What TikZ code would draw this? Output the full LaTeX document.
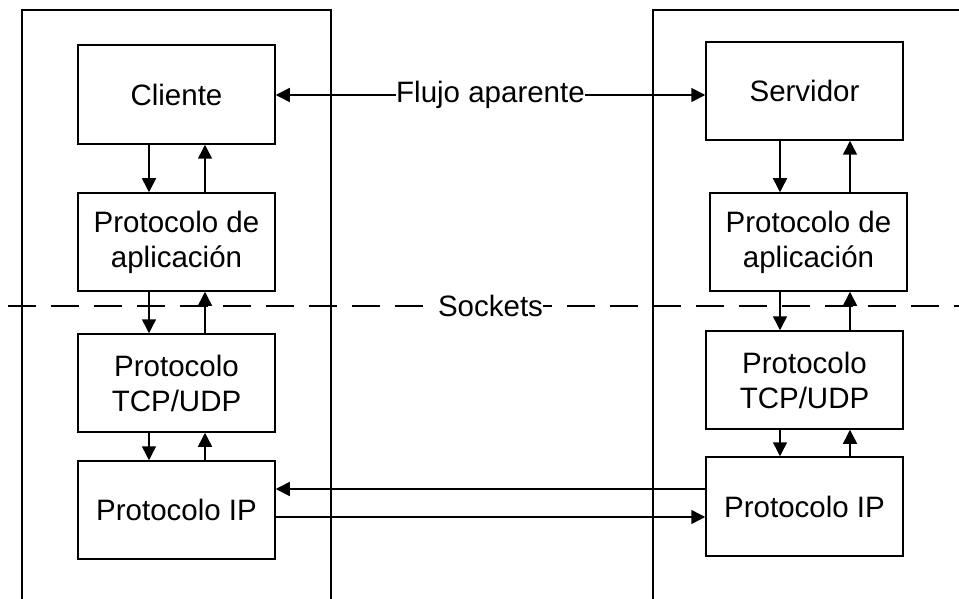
\documentclass[tikz,border=0pt]{standalone}
\usepackage{fontspec}
\setmainfont{Liberation Sans}
\usetikzlibrary{arrows.meta}
\begin{document}
\begin{tikzpicture}[x=1pt,y=-1pt,
  box/.style={draw, line width=1.5pt, minimum width=197pt, minimum height=98pt, inner sep=0pt, align=center,
    font=\fontsize{29.5}{35}\selectfont},
  arr/.style={line width=1.5pt, -{Triangle[length=14pt,width=14pt]}},
  arrb/.style={line width=1.5pt, {Triangle[length=14pt,width=14pt]}-{Triangle[length=14pt,width=14pt]}},
  frame/.style={line width=1.5pt},
  sock/.style={line width=1.5pt, dash pattern=on 28pt off 15pt},
  lbl/.style={fill=white, inner sep=0pt, font=\fontsize{29.5}{35}\selectfont}]
\useasboundingbox (0,0) rectangle (959,599);
% outer frames
\coordinate (fl1) at (22,620);
\coordinate (fl2) at (22,10);
\coordinate (fl3) at (331,10);
\coordinate (fl4) at (331,620);
\coordinate (fr1) at (653,620);
\coordinate (fr2) at (653,10);
\coordinate (fr3) at (980,10);
\draw[frame] (fl1) -- (fl2) -- (fl3) -- (fl4);
\draw[frame] (fr1) -- (fr2) -- (fr3);
% boxes
\node[box, minimum height=99pt] (cli) at (176.5,94.5) {Cliente};
\node[box] (appL) at (176.5,242) {Protocolo de\\aplicación};
\node[box] (tcpL) at (176.5,383) {Protocolo\\TCP/UDP};
\node[box] (ipL) at (176.5,510) {Protocolo IP};
\node[box] (srv) at (804.5,91) {Servidor};
\node[box] (appR) at (808.5,242) {Protocolo de\\aplicación};
\node[box] (tcpR) at (804.5,380) {Protocolo\\TCP/UDP};
\node[box, minimum height=99pt] (ipR) at (804.5,506.5) {Protocolo IP};
% column coordinates
\coordinate (xl1) at (149,0);
\coordinate (xl2) at (205,0);
\coordinate (xr1) at (780,0);
\coordinate (xr2) at (850,0);
\coordinate (yF) at (0,95);
\coordinate (yA) at (0,489);
\coordinate (yB) at (0,517);
% vertical arrows left
\draw[arr] (cli.south -| xl1) -- (appL.north -| xl1);
\draw[arr] (appL.north -| xl2) -- (cli.south -| xl2);
\draw[arr] (appL.south -| xl1) -- (tcpL.north -| xl1);
\draw[arr] (tcpL.north -| xl2) -- (appL.south -| xl2);
\draw[arr] (tcpL.south -| xl1) -- (ipL.north -| xl1);
\draw[arr] (ipL.north -| xl2) -- (tcpL.south -| xl2);
% vertical arrows right
\draw[arr] (srv.south -| xr1) -- (appR.north -| xr1);
\draw[arr] (appR.north -| xr2) -- (srv.south -| xr2);
\draw[arr] (appR.south -| xr1) -- (tcpR.north -| xr1);
\draw[arr] (tcpR.north -| xr2) -- (appR.south -| xr2);
\draw[arr] (tcpR.south -| xr1) -- (ipR.north -| xr1);
\draw[arr] (ipR.north -| xr2) -- (tcpR.south -| xr2);
% IP arrows
\draw[arr] (ipR.west |- yA) -- (ipL.east |- yA);
\draw[arr] (ipL.east |- yB) -- (ipR.west |- yB);
% apparent flow
\draw[arrb] (cli.east |- yF) -- (srv.west |- yF) node[lbl, midway] (flujo) {Flujo aparente};
% sockets line
\coordinate (sl) at (8,306);
\coordinate (sr) at (965,306);
\draw[sock] (sl) -- (sr);
\node[lbl] (sockets) at (490.5,306) {Sockets};
\end{tikzpicture}
\end{document}
